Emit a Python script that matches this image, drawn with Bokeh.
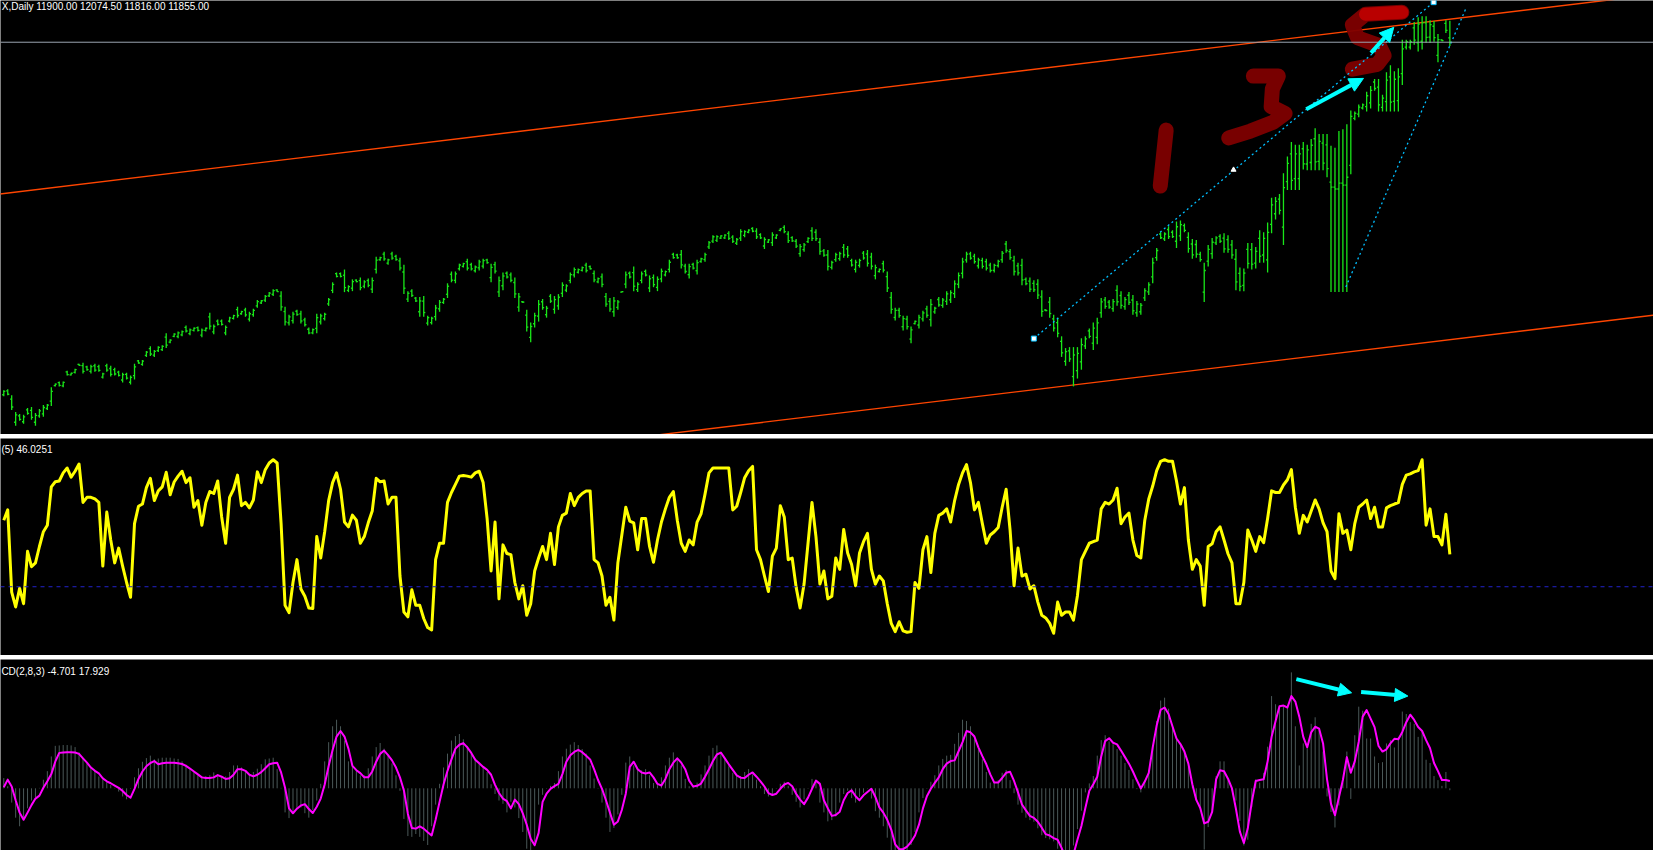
from bokeh.plotting import figure
from bokeh.layouts import column
from bokeh.models import ColumnDataSource, Range1d, Span, Label, Arrow, NormalHead
from bokeh.embed import file_html
from bokeh.resources import INLINE

# ---------------- data ----------------
title_text = "X,Daily  11900.00 12074.50 11816.00 11855.00"
rsi_label = "(5) 46.0251"
macd_label = "CD(2,8,3) -4.701 17.929"
bid_price = 11855

highs = [8310,8320,8260,8090,8070,8060,8130,8140,8080,8120,
8160,8170,8340,8380,8400,8400,8510,8490,8530,8580,
8590,8560,8570,8580,8570,8490,8580,8560,8540,8510,
8490,8490,8460,8580,8620,8620,8710,8760,8720,8760,
8770,8890,8830,8890,8910,8920,8970,8940,8950,8960,
8940,8950,9100,8980,9030,9030,8970,9060,9080,9160,
9120,9150,9110,9140,9230,9230,9280,9310,9340,9340,
9320,9160,9080,9110,9130,9120,9050,8950,8940,9090,
9090,9100,9250,9410,9510,9510,9540,9380,9440,9440,
9460,9430,9450,9460,9670,9670,9720,9650,9720,9690,
9660,9590,9320,9340,9260,9260,9270,9070,9060,9180,
9230,9250,9400,9520,9520,9600,9610,9650,9610,9580,
9640,9650,9650,9600,9620,9470,9510,9520,9510,9460,
9300,9220,9130,9000,9100,9230,9240,9170,9290,9270,
9290,9410,9390,9510,9560,9550,9570,9610,9580,9530,
9460,9500,9300,9250,9260,9230,9320,9520,9520,9570,
9410,9520,9540,9480,9490,9470,9550,9530,9640,9710,
9700,9740,9600,9600,9610,9640,9660,9710,9830,9890,
9890,9890,9900,9930,9890,9860,9950,9940,9950,9970,
9960,9910,9870,9850,9920,9900,9960,9990,9930,9880,
9850,9800,9810,9870,9970,9950,9860,9750,9740,9630,
9710,9720,9800,9780,9650,9640,9650,9730,9740,9710,
9590,9550,9630,9520,9310,9150,9150,9070,9070,8960,
9020,9080,9120,9170,9240,9160,9260,9250,9320,9330,
9430,9510,9660,9720,9720,9700,9660,9660,9650,9610,
9600,9640,9730,9830,9750,9680,9610,9650,9460,9460,
9430,9440,9330,9135,9260,9080,9050,8860,8740,8750,
8750,8750,8840,8860,8940,9000,9050,9250,9260,9230,
9240,9380,9320,9260,9310,9280,9220,9200,9350,9410,
9660,9760,9920,9920,9980,9940,10030,10040,10010,9920,
9850,9840,9720,9610,9790,9860,9880,9900,9910,9890,
9840,9750,9560,9550,9810,9810,9770,9940,9920,10020,
10270,10280,10310,10520,10690,10840,10810,10810,10840,10810,
10870,10980,10920,10920,10920,10800,10780,10950,10970,11020,
11160,11150,11220,11230,11350,11410,11480,11480,11320,11550,
11620,11560,11590,11880,11880,11880,12060,12110,12120,12120,
12080,12070,11940,11885,12080,12074.5]

lows = [8250,8260,8110,7950,8000,7970,8060,8010,7950,8030,
8040,8110,8150,8350,8350,8340,8460,8460,8480,8560,
8480,8510,8480,8500,8500,8430,8500,8450,8460,8450,
8390,8420,8370,8420,8580,8560,8650,8660,8650,8700,
8710,8740,8790,8850,8840,8860,8900,8870,8910,8910,
8850,8910,8930,8880,8970,8970,8870,9000,9030,9050,
9080,9060,9010,9060,9150,9190,9210,9260,9270,9310,
9120,8970,8970,8990,9070,8990,8960,8880,8880,8890,
8980,9020,9170,9300,9460,9460,9310,9310,9320,9410,
9330,9350,9360,9300,9500,9630,9630,9590,9640,9630,
9530,9290,9210,9260,9210,9060,9060,8970,8980,9020,
9110,9190,9250,9410,9400,9530,9560,9530,9530,9510,
9530,9550,9600,9410,9500,9260,9330,9450,9410,9250,
9110,9200,8910,8800,8950,9010,9130,9050,9200,9090,
9130,9260,9310,9400,9460,9500,9520,9510,9540,9410,
9400,9360,9160,9110,9060,9130,9305,9350,9450,9320,
9310,9400,9470,9310,9360,9320,9410,9470,9510,9650,
9650,9550,9500,9450,9540,9490,9610,9620,9750,9810,
9820,9850,9850,9840,9810,9790,9830,9870,9910,9920,
9850,9850,9750,9810,9780,9850,9930,9910,9810,9820,
9760,9670,9720,9810,9830,9830,9690,9670,9530,9540,
9620,9630,9660,9660,9570,9510,9560,9640,9570,9540,
9440,9510,9510,9310,9090,9020,9050,8920,8930,8790,
8980,8940,9010,9050,8960,9090,9160,9150,9180,9200,
9250,9350,9450,9610,9640,9600,9550,9550,9530,9510,
9510,9560,9610,9710,9640,9480,9480,9380,9380,9310,
9310,9240,9060,9115,9050,8910,8850,8650,8560,8600,
8350,8430,8520,8730,8840,8720,8780,9050,9140,9140,
9110,9170,9140,9130,9180,9080,9060,9080,9220,9280,
9400,9630,9850,9830,9850,9860,9760,9830,9920,9710,
9650,9660,9620,9210,9570,9650,9790,9810,9710,9710,
9650,9330,9320,9320,9550,9540,9550,9610,9610,9510,
9910,10050,10100,9790,10350,10350,10350,10350,10560,10550,
10550,10550,10550,10550,10480,9310,9310,9310,9310,9310,
10510,11060,11090,11170,11150,11180,11360,11150,11150,11150,
11150,11150,11150,11420,11780,11780,11830,11760,11780,11850,
11850,11860,11650,11865,11950,11816]

opens = [8265,8305,8220,7985,8050,7990,8110,8105,7985,8050,
8070,8125,8200,8358,8388,8355,8498,8468,8492,8575,
8562,8548,8502,8560,8552,8445,8560,8532,8520,8495,
8415,8472,8392,8460,8610,8575,8665,8735,8668,8715,
8725,8852,8800,8860,8858,8875,8952,8888,8920,8948,
8872,8920,9058,8905,9015,9015,8895,9015,9042,9132,
9090,9128,9035,9080,9170,9200,9228,9272,9288,9332,
9270,9112,8998,9020,9115,9088,9028,8932,8895,8940,
9008,9040,9190,9328,9498,9498,9482,9328,9350,9432,
9428,9370,9428,9340,9542,9640,9698,9605,9700,9675,
9628,9515,9238,9320,9248,9110,9218,8995,9000,9060,
9140,9205,9288,9492,9430,9548,9572,9620,9590,9528,
9558,9575,9638,9458,9590,9312,9375,9502,9485,9408,
9158,9212,9075,8850,8988,9065,9212,9080,9268,9135,
9170,9298,9330,9428,9485,9512,9532,9585,9570,9500,
9415,9465,9265,9215,9110,9155,9310,9392,9502,9508,
9335,9430,9522,9352,9458,9358,9445,9485,9542,9695,
9688,9692,9575,9488,9592,9528,9622,9642,9770,9830,
9838,9860,9862,9908,9870,9808,9860,9888,9920,9958,
9932,9895,9780,9820,9815,9862,9938,9970,9900,9865,
9828,9702,9742,9825,9935,9920,9818,9730,9688,9562,
9642,9652,9765,9750,9630,9542,9582,9708,9698,9668,
9478,9520,9600,9468,9255,9052,9125,8958,9035,8832,
8990,8975,9038,9140,9030,9108,9235,9175,9215,9232,
9295,9390,9502,9638,9700,9675,9578,9632,9620,9585,
9532,9580,9640,9800,9722,9630,9578,9582,9440,9422,
9400,9390,9262,9128,9208,9038,9000,8808,8605,8712,
8450,8510,8600,8762,8915,8790,8848,9100,9230,9208,
9142,9328,9275,9162,9278,9230,9100,9110,9252,9312,
9465,9662,9902,9852,9948,9920,9828,9882,9988,9868,
9800,9795,9695,9310,9625,9702,9812,9878,9860,9845,
9792,9645,9500,9378,9745,9742,9605,9858,9688,9638,
10000,10108,10258,9972,10435,10718,10465,10465,10770,10615,
10630,10872,10642,10828,10810,10430,10380,10360,10420,10400,
10600,11080,11122,11185,11200,11238,11450,11398,11192,11250,
11502,11252,11260,11535,11805,11805,12002,11848,11865,12052,
11908,12018,11722,11878,12048,11900]

closes = [8300,8270,8140,8060,8015,8040,8075,8035,8055,8100,
8135,8160,8300,8374,8360,8390,8470,8484,8520,8564,
8502,8520,8552,8516,8514,8478,8516,8472,8476,8462,
8470,8434,8442,8548,8588,8608,8698,8680,8706,8748,
8758,8770,8822,8882,8896,8908,8914,8926,8942,8920,
8922,8942,8964,8960,8982,8982,8950,9048,9070,9072,
9112,9078,9090,9124,9214,9222,9266,9300,9326,9316,
9160,9008,9058,9086,9082,9016,8978,8894,8928,9050,
9068,9084,9234,9388,9470,9470,9356,9366,9416,9416,
9356,9414,9378,9428,9636,9662,9648,9638,9656,9642,
9556,9350,9298,9276,9220,9220,9102,9050,9044,9148,
9206,9238,9370,9432,9496,9586,9600,9554,9546,9566,
9618,9630,9610,9562,9524,9428,9474,9464,9430,9292,
9262,9208,8954,8960,9070,9186,9152,9146,9218,9234,
9258,9380,9374,9488,9540,9540,9560,9530,9548,9434,
9448,9388,9188,9138,9220,9210,9315,9486,9464,9370,
9390,9496,9484,9446,9386,9440,9522,9518,9614,9662,
9660,9588,9520,9570,9554,9610,9650,9692,9814,9874,
9876,9882,9890,9858,9826,9846,9926,9926,9942,9930,
9872,9862,9846,9842,9892,9890,9954,9926,9834,9832,
9778,9774,9792,9858,9858,9854,9724,9686,9572,9612,
9692,9702,9688,9684,9586,9614,9632,9658,9604,9574,
9560,9542,9534,9352,9134,9124,9070,9040,8958,8926,
9012,9052,9098,9074,9184,9146,9180,9230,9292,9304,
9394,9478,9618,9698,9656,9620,9638,9572,9554,9530,
9582,9624,9706,9734,9662,9520,9506,9434,9396,9340,
9334,9280,9114,9122,9092,8944,8890,8692,8704,8630,
8670,8686,8776,8834,8860,8944,8996,9210,9164,9158,
9214,9212,9176,9234,9206,9120,9188,9176,9324,9384,
9608,9734,9864,9902,9876,9876,9976,9998,9938,9752,
9690,9696,9640,9530,9746,9818,9862,9828,9750,9746,
9688,9414,9368,9504,9602,9594,9726,9676,9858,9918,
10198,10234,10142,10374,10622,10448,10718,10718,10616,10758,
10806,10636,10846,10624,10568,10380,10360,10420,10400,10480,
11100,11130,11194,11218,11310,11364,11384,11216,11286,11470,
11244,11478,11502,11788,11860,11860,11876,12040,12052,11904,
12034,11902,11882,11872,11976,11855]

rsi = [62.9,68.0,27.3,20.0,29.2,21.6,47.5,39.9,41.8,49.9,
57.2,60.4,79.4,81.9,82.3,86.3,88.7,84.2,87.1,90.7,
71.7,74.2,74.2,73.4,71.7,40.2,66.9,53.1,41.8,49.1,
40.2,32.1,24.8,61.2,69.8,70.9,79.0,83.6,72.6,77.4,
79.4,86.6,75.5,81.8,84.7,87.1,81.5,83.9,69.3,72.6,
60.4,71.7,77.1,76.1,82.3,64.5,51.5,74.2,78.2,85.2,
70.1,71.7,69.0,72.9,86.8,81.5,87.9,91.2,92.8,91.2,
61.2,20.8,17.2,32.1,43.4,28.9,25.3,19.5,19.2,54.8,
44.2,57.2,72.6,81.5,86.3,78.2,62.0,59.6,65.4,62.9,
51.5,54.8,61.6,67.4,83.6,81.9,82.3,70.9,74.2,74.2,
35.3,17.5,15.1,28.5,20.8,20.8,14.3,9.8,8.6,43.4,
51.5,51.5,71.7,76.6,80.6,84.7,85.0,84.7,84.2,86.3,
87.1,81.5,63.7,37.8,62.0,24.0,50.7,46.4,45.9,32.1,
24.0,30.5,15.9,21.6,37.8,44.2,49.9,43.4,56.4,41.0,
59.6,65.3,66.4,76.1,70.1,74.2,76.1,77.4,77.4,43.4,
41.8,35.3,20.8,24.8,13.5,41.8,55.6,69.3,62.5,61.6,
48.3,63.7,63.7,49.9,42.1,53.1,62.0,68.5,74.2,77.1,
62.9,51.5,47.5,53.1,50.7,62.0,66.1,75.8,86.3,88.7,
88.7,88.7,88.7,88.7,68.0,69.8,76.6,83.9,87.4,89.5,
48.3,43.4,35.3,27.6,45.1,49.1,70.1,64.5,43.4,44.2,
29.7,19.5,31.3,51.5,71.7,54.8,31.3,37.8,24.0,25.3,
44.2,38.6,58.3,46.7,41.0,30.5,46.7,52.3,56.4,38.6,
31.3,35.3,32.9,21.6,11.9,7.8,12.7,8.2,7.5,7.8,
32.1,29.2,48.3,54.8,37.0,56.4,65.3,66.4,68.5,62.0,
72.6,80.6,86.3,90.4,81.5,68.0,71.7,61.2,51.5,55.6,
57.2,59.3,69.3,78.2,58.0,30.5,49.1,35.3,36.2,28.9,
30.5,22.4,15.9,14.6,11.9,7.0,22.4,15.9,17.5,17.5,
13.5,25.6,43.4,47.5,51.5,52.3,53.1,68.5,71.7,70.9,
72.9,78.7,61.2,64.5,66.4,53.1,45.4,44.2,62.9,73.4,
79.8,87.4,92.0,92.8,92.0,92.0,82.3,70.9,79.0,53.1,
38.6,43.4,40.2,20.8,49.9,51.2,57.2,59.6,53.1,46.3,
41.8,21.6,21.6,32.1,58.0,53.1,47.5,54.8,51.8,63.7,
77.4,76.6,76.6,80.3,82.9,87.9,69.3,56.4,65.3,62.0,
67.4,72.9,68.5,61.6,57.2,37.8,34.0,66.1,56.4,58.0,
48.3,61.2,69.3,70.9,72.9,63.7,69.3,59.6,59.6,69.0,
70.1,70.9,71.6,80.6,85.2,85.8,86.8,87.4,92.8,60.4,
68.5,54.8,54.8,50.7,65.8,46.0251]
rsi_level = 30

macd_hist = [25,5,-35,-72,-93,-72,-49,-30,-22,1,
21,42,78,104,105,106,106,105,101,88,
75,61,51,44,29,21,15,8,1,-8,
-20,-27,-1,27,49,65,74,80,71,73,
75,75,75,73,72,66,58,49,41,32,
30,30,32,39,34,27,29,40,56,56,
51,40,35,40,48,59,71,73,75,47,
1,-59,-73,-60,-50,-47,-61,-72,-54,-30,
11,66,113,152,168,152,117,66,53,45,
32,32,49,78,101,111,97,82,61,32,
-6,-75,-117,-119,-112,-119,-129,-139,-93,-40,
11,51,85,117,128,133,120,104,84,73,
63,54,40,10,-14,-30,-38,-59,-33,-47,
-73,-107,-148,-168,-131,-40,-16,-1,6,13,
42,78,97,107,113,106,96,85,56,24,
-1,-35,-72,-107,-97,-64,-16,63,78,56,
47,44,47,32,13,8,27,56,75,88,
75,56,23,5,7,14,34,56,80,99,
105,88,71,54,38,31,30,40,47,34,
21,5,-14,-20,-16,-1,11,16,6,-16,
-33,-47,-27,-1,23,13,-35,-59,-81,-78,
-69,-35,-14,-6,-24,-35,-21,-11,-1,-25,
-56,-72,-93,-121,-165,-179,-179,-171,-158,-139,
-107,-59,-24,-1,16,32,56,72,80,82,
109,136,168,165,152,120,95,71,40,14,
14,20,38,45,20,-12,-40,-60,-72,-78,
-82,-98,-115,-122,-125,-130,-148,-175,-185,-175,
-140,-100,-55,-10,12,30,80,118,130,115,
108,96,80,62,45,22,-2,-10,20,45,
105,165,215,222,195,155,125,110,92,62,
5,-30,-50,-150,-95,-60,30,66,66,20,
-5,-30,-80,-140,-126,-46,22,14,38,102,
226,206,202,200,202,284,152,56,110,98,
158,174,142,90,-20,-58,-96,-42,14,90,
-26,130,200,190,122,122,78,62,64,110,
118,100,126,188,182,162,158,126,142,70,
62,30,20,6,40,-4.701]

macd_signal = [2.8,21.2,4.4,-29.2,-59.6,-77.2,-59.6,-41.2,-25.2,-18.0,
1.2,17.2,34.8,65.2,86.8,87.6,88.4,88.4,87.6,84.4,
73.2,62.8,50.8,42.8,36.4,24.4,17.2,12.4,6.8,1.2,
-6.8,-16.4,-22.8,-1.2,22.8,41.2,54.0,62.0,66.8,58.8,
61.2,62.8,62.8,62.8,61.2,59.6,54.8,48.4,41.2,34.0,
26.8,25.2,25.2,26.8,32.4,28.4,22.8,24.4,33.2,46.8,
46.8,42.8,33.2,29.2,33.2,39.6,49.2,58.8,61.2,62.8,
38.8,1.2,-49.2,-61.2,-50.0,-42.0,-38.8,-50.8,-60.4,-45.2,
-25.2,9.2,54.8,94.0,126.8,140.4,126.8,97.2,54.8,44.4,
37.2,26.8,26.8,41.2,65.2,84.4,92.4,81.2,68.4,50.8,
26.8,-5.2,-62.8,-97.2,-98.8,-93.2,-98.8,-107.6,-115.6,-77.2,
-33.2,9.2,42.8,70.8,97.2,106.8,110.8,100.4,86.8,70.0,
61.2,52.4,45.2,33.2,8.4,-11.6,-25.2,-31.6,-49.2,-27.6,
-38.8,-61.2,-89.2,-123.6,-139.6,-109.2,-33.2,-13.2,-1.2,5.2,
10.8,34.8,65.2,81.2,89.2,94.0,88.4,79.6,70.8,46.8,
20.4,-1.2,-29.2,-59.6,-89.2,-81.2,-53.2,-13.2,52.4,65.2,
46.8,38.8,36.4,38.8,26.8,10.8,6.8,22.8,46.8,62.8,
73.2,62.8,46.8,18.8,4.4,6.0,11.6,28.4,46.8,66.8,
82.8,87.6,73.2,58.8,45.2,31.6,26.0,25.2,33.2,38.8,
28.4,17.2,4.4,-11.6,-16.4,-13.2,-1.2,9.2,13.2,5.2,
-13.2,-27.6,-38.8,-22.8,-1.2,18.8,10.8,-29.2,-49.2,-67.6,
-65.2,-57.2,-29.2,-11.6,-5.2,-19.6,-29.2,-17.2,-9.2,-1.2,
-21.2,-46.8,-59.6,-77.2,-101.2,-137.2,-149.2,-149.2,-142.8,-131.6,
-115.6,-89.2,-49.2,-19.6,-1.2,13.2,26.8,46.8,60.4,66.8,
68.4,90.8,113.2,140.4,137.2,126.8,100.4,78.8,58.8,34.0,
14.0,14.0,25.2,38.0,40.4,18.0,-10.0,-39.6,-54.0,-67.6,
-72.4,-82.0,-96.4,-112.4,-115.6,-122.0,-126.0,-146.0,-170.0,-174.0,
-162.0,-126.0,-92.4,-48.4,-6.0,10.0,28.4,78.0,115.6,122.8,
111.6,107.6,92.4,76.4,60.4,41.2,19.6,-0.4,16.4,38.0,
100.4,154.0,192.4,198.0,182.0,151.6,122.0,108.4,90.0,60.4,
10.0,-28.4,-48.4,-86.0,-82.0,-58.0,22.0,44.4,42.0,23.6,
-0.4,-50.0,-106.0,-134.0,-98.0,-34.0,18.0,20.4,22.0,66.0,
126.0,164.4,201.2,202.8,198.0,226.0,212.4,175.6,126.0,100.4,
137.2,150.8,146.0,110.0,22.0,-38.0,-66.0,-22.0,20.4,76.4,
38.0,66.0,114.0,175.6,191.6,170.8,150.0,103.6,90.0,95.6,
110.0,121.2,120.4,138.0,162.0,180.4,167.6,150.0,140.4,118.0,
98.0,62.0,42.0,20.4,20.4,17.929]

# chart drawing objects (bar index, price)
channel_x = [-1, 420]
channel_upper = [10309, 12357]
channel_lower = [7050, 9092]
trend1_x = [260, 360.9]
trend1_y = [8837, 12263]
trend2_x = [338.75, 369.2]
trend2_y = [9363, 12213]
marker_sq_x = [260, 360.9]
marker_sq_y = [8837, 12263]
marker_tri_x = [310.4]
marker_tri_y = [10556]
price_arrows = [(328.75, 11173, 343.2, 11487), (345.1, 11747, 350.85, 12007)]
macd_arrows = [(326.25, 267.6, 340.2, 234.0), (342.6, 235.7, 354.4, 226.0)]
stroke_1_x = [293.4, 291.9]
stroke_1_y = [10960, 10390]
stroke_3_x = [315.4, 321.7, 320.2, 319.9, 323.4, 320.4, 314.7, 309.2]
stroke_3_y = [11510, 11510, 11380, 11200, 11130, 11040, 10950, 10880]
stroke_5_x = [352.9, 343.7, 340.4, 341.7, 347.2, 348.4, 346.7, 340.4]
stroke_5_y = [12160, 12140, 12030, 11900, 11820, 11720, 11630, 11580]
stroke_5_top_x = [352.9, 343.7]
stroke_5_top_y = [12160, 12140]

# ---------------- layout ----------------
W = 1653
H_TOP, H_SEP, H_MID, H_BOT = 434, 4, 217, 191
PRICE_RANGE = (7860, 12280)
RSI_RANGE = (-4.0, 103.3)
MACD_RANGE = (-152.4, 315.6)
FONT = "Liberation Sans"

n = len(highs)
idx = list(range(n))
x_range = Range1d(-0.825, 416.4)


def panel(h, yr):
    p = figure(width=W, height=h, x_range=x_range, y_range=Range1d(*yr),
               toolbar_location=None, output_backend="svg", min_border=0,
               x_axis_location=None, y_axis_location=None)
    p.background_fill_color = "black"
    p.border_fill_color = "black"
    p.outline_line_color = None
    p.grid.visible = False
    return p


def separator():
    s = figure(width=W, height=H_SEP, x_range=(0, 1), y_range=(0, H_SEP),
               toolbar_location=None, output_backend="svg", min_border=0,
               x_axis_location=None, y_axis_location=None)
    s.background_fill_color = "black"
    s.border_fill_color = "black"
    s.outline_line_color = None
    s.grid.visible = False
    s.add_layout(Span(location=H_SEP - 0.5, dimension="width", line_color="white", line_width=1))
    s.add_layout(Span(location=H_SEP - 2.5, dimension="width", line_color="white", line_width=1))
    return s


# ---- price panel ----
top = panel(H_TOP, PRICE_RANGE)
GREEN = "#19E619"
src = ColumnDataSource(dict(x=idx, xl=[i - 0.4 for i in idx], xr=[i + 0.4 for i in idx],
                            h=highs, l=lows, o=opens, c=closes))
top.add_layout(Span(location=bid_price, dimension="width", line_color="#9AA4B0", line_width=1))
top.line(channel_x, channel_upper, line_color="#FF4500", line_width=1.4)
top.line(channel_x, channel_lower, line_color="#FF4500", line_width=1.4)
top.segment("x", "l", "x", "h", source=src, line_color=GREEN, line_width=1.3)
top.segment("xl", "o", "x", "o", source=src, line_color=GREEN, line_width=1.3)
top.segment("x", "c", "xr", "c", source=src, line_color=GREEN, line_width=1.3)

for sx, sy in [(stroke_1_x, stroke_1_y), (stroke_3_x, stroke_3_y), (stroke_5_x, stroke_5_y)]:
    top.line(sx, sy, line_color="#7E0000", line_alpha=0.95, line_width=15,
             line_cap="round", line_join="round")
top.line(stroke_5_top_x, stroke_5_top_y, line_color="#C00000", line_alpha=0.9, line_width=13,
         line_cap="round")

top.line(trend1_x, trend1_y, line_color="#00BFFF", line_width=1.3, line_dash="2 3")
top.line(trend2_x, trend2_y, line_color="#00BFFF", line_width=1.3, line_dash="2 3")
top.scatter(marker_sq_x, marker_sq_y, marker="square", size=5, fill_color="white", line_color="#00BFFF")
top.scatter(marker_tri_x, marker_tri_y, marker="triangle", size=5, fill_color="white", line_color="white")

for (x0, y0, x1, y1) in price_arrows:
    top.add_layout(Arrow(end=NormalHead(size=14, fill_color="#00FFFF", line_color="#00FFFF"),
                         x_start=x0, y_start=y0, x_end=x1, y_end=y1,
                         line_color="#00FFFF", line_width=4))

units_top = (PRICE_RANGE[1] - PRICE_RANGE[0]) / H_TOP
top.add_layout(Label(x=-0.5, y=PRICE_RANGE[1] - 6 * units_top, text=title_text,
                     text_color="white", text_font=FONT, text_font_size="10px",
                     text_baseline="alphabetic"))

# ---- RSI panel ----
mid = panel(H_MID, RSI_RANGE)
mid.add_layout(Span(location=rsi_level, dimension="width", line_color="#2222CC",
                    line_width=1, line_dash="4 4"))
mid.line(idx, rsi, line_color="#FFFF00", line_width=3, line_join="round")
units_mid = (RSI_RANGE[1] - RSI_RANGE[0]) / H_MID
mid.add_layout(Label(x=-0.6, y=RSI_RANGE[1] - 11 * units_mid, text=rsi_label,
                     text_color="white", text_font=FONT, text_font_size="10px",
                     text_baseline="alphabetic"))

# ---- MACD panel ----
bot = panel(H_BOT, MACD_RANGE)
bot.segment(x0=idx, y0=[0] * n, x1=idx, y1=macd_hist, line_color="#4A5858", line_width=1)
bot.line(idx, macd_signal, line_color="#FF00FF", line_width=2, line_join="round")
for (x0, y0, x1, y1) in macd_arrows:
    bot.add_layout(Arrow(end=NormalHead(size=13, fill_color="#00FFFF", line_color="#00FFFF"),
                         x_start=x0, y_start=y0, x_end=x1, y_end=y1,
                         line_color="#00FFFF", line_width=4))
units_bot = (MACD_RANGE[1] - MACD_RANGE[0]) / H_BOT
bot.add_layout(Label(x=-0.6, y=MACD_RANGE[1] - 12 * units_bot, text=macd_label,
                     text_color="white", text_font=FONT, text_font_size="10px",
                     text_baseline="alphabetic"))

layout = column(top, separator(), mid, separator(), bot, spacing=0)

open("out.html", "w").write(file_html(layout, INLINE))
